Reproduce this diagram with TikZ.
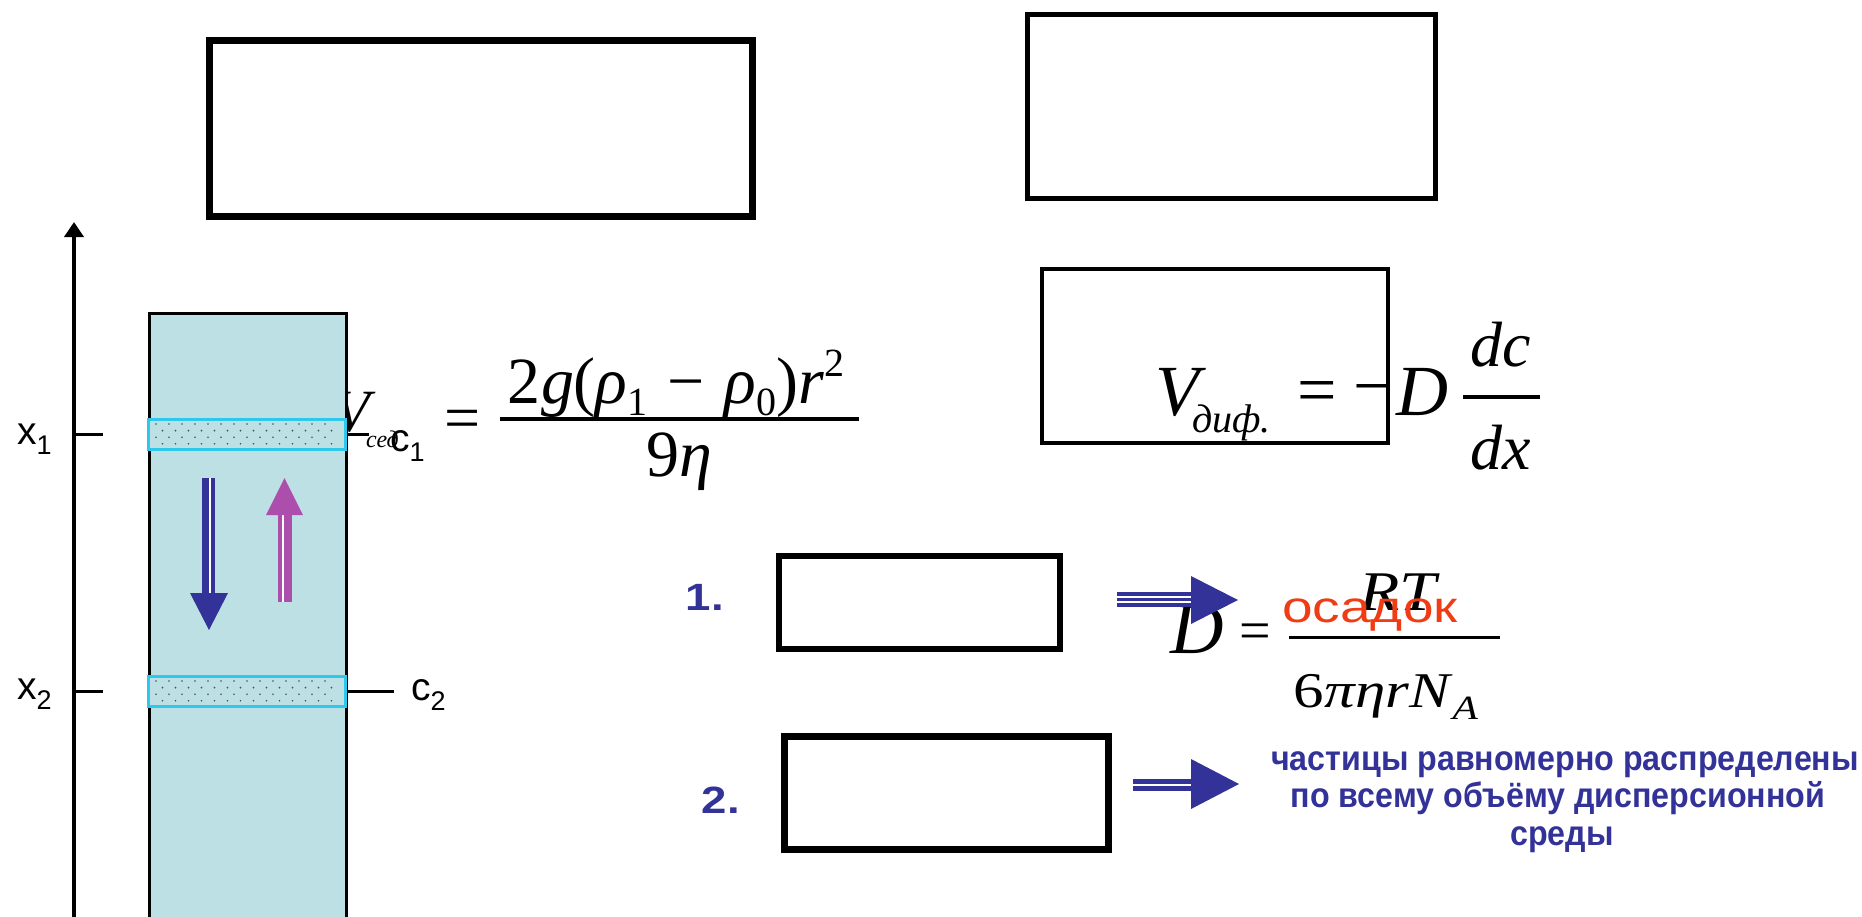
\documentclass[tikz,border=0pt]{standalone}
\usepackage{fontspec}
\usepackage{graphicx}
\setmainfont{Liberation Serif}
\newfontfamily\tms{Liberation Serif}
\newfontfamily\arl{Liberation Sans}
\newfontfamily\arlc[FakeStretch=0.92]{Liberation Sans}
\usetikzlibrary{arrows.meta}
\definecolor{colfill}{RGB}{188,224,227}
\definecolor{bandc}{RGB}{45,200,235}
\definecolor{ablue}{RGB}{50,50,152}
\definecolor{apink}{RGB}{172,78,172}
\definecolor{ored}{RGB}{240,60,20}
\definecolor{dotc}{RGB}{70,80,85}
\newcommand\fs[1]{\fontsize{#1}{#1}\selectfont}
\newcommand\dn[3]{\raisebox{-#1pt}{\fs{#2}#3}}
\newcommand\up[3]{\raisebox{#1pt}{\fs{#2}#3}}
\tikzset{
  frame/.style={draw=black, fill=none, inner sep=0pt},
  lbl/.style={font=\arl\fs{39}, inner sep=0pt, anchor=base west},
  num/.style={font=\arl\bfseries\fs{38}, text=ablue, inner sep=0pt},
  blue txt/.style={font=\arlc\bfseries\fs{35}, text=ablue, inner sep=0pt, anchor=base},
  mth/.style={font=\tms, inner sep=0pt},
  tick/.style={line width=3pt},
  bar/.style={line width=3.5pt},
}
\begin{document}
\begin{tikzpicture}[x=1pt,y=-1pt]
\useasboundingbox (0,0) rectangle (1862,916);
\clip (0,0) rectangle (1862,916);
% V_sed (partly hidden behind the column)
\node[mth, anchor=base west] (vsed) at (333,431) {\fs{60}\itshape V};
% column
\node[frame, line width=3pt, fill=colfill, minimum width=197, minimum height=640, anchor=north west] (col) at (148,312) {};
% bands
\node[frame, draw=bandc, line width=3pt, fill=colfill, minimum width=197, minimum height=30] (band1) at (246.5,434) {};
\node[frame, draw=bandc, line width=3pt, fill=colfill, minimum width=197, minimum height=30] (band2) at (246.5,691) {};
\foreach \yy in {424,681} {
  \foreach \r in {0,1,2,3} {
    \foreach \c in {0,...,13} {
      \fill[dotc] ({156+13*\c+6.5*mod(\r,2)}, {\yy+6.6*\r}) circle (0.9);
    }
  }
}
\node[mth, anchor=base west] (vsedsub) at (366,447) {\fs{24}\itshape сед};
% axis
\coordinate (axb) at (74,930);
\coordinate (axt) at (74,222);
\draw[line width=4pt, -{Triangle[width=19pt,length=15pt]}] (axb) -- (axt);
% ticks
\draw[tick] (74,434) -- (103,434);
\draw[tick] (74,691) -- (103,691);
\draw[tick] (band1.east) -- ++(22,0) coordinate (c1t);
\draw[tick] (band2.east) -- ++(47,0) coordinate (c2t);
% labels
\node[lbl] (x1) at (17,444) {x\dn{10}{27}{1}};
\node[lbl] (x2) at (17,699) {x\dn{10}{27}{2}};
\node[lbl] (c1) at (390,451) {c\dn{10}{27}{1}};
\node[lbl] (c2) at (411,700) {c\dn{10}{27}{2}};
% vertical block arrows
\fill[ablue] (202,478) rectangle (215,594);
\draw[white, line width=1.2pt] (210,478) -- (210,594);
\fill[ablue] (190,593) -- (228,593) -- (209,630) -- cycle;
\fill[apink] (278,514) rectangle (292,602);
\draw[white, line width=1.2pt] (283,514) -- (283,602);
\fill[apink] (266,515) -- (303,515) -- (284.5,478) -- cycle;
% V_sed formula
\node[mth, anchor=center] (eq1) at (463,425) {\fs{64}=};
\draw[bar] (500,419) -- (859,419);
\node[mth, anchor=base] (num1) at (676,403) {\fs{66}2\textit{g}(\textit{ρ}\dn{12}{40}{1}\hspace{0.3em}−\hspace{0.3em}\textit{ρ}\dn{12}{40}{0})\textit{r}\up{27}{40}{2}};
\node[mth, anchor=base] (den1) at (679,476) {\fs{66}9\textit{η}};
% top boxes
\node[frame, line width=7pt, minimum width=543, minimum height=176] (boxA) at (481,128.5) {};
\node[frame, line width=5pt, minimum width=408, minimum height=184] (boxB) at (1231.5,106.5) {};
\node[frame, line width=4.5pt, minimum width=346, minimum height=174] (boxC) at (1215,356) {};
% V_dif formula
\node[mth, anchor=base west] (vdif) at (1155,415) {\fs{72}\itshape V};
\node[mth, anchor=base west] (vdifsub) at (1192,432) {\fs{40}\itshape диф.};
\node[mth, anchor=center] (eq2) at (1317,397) {\fs{70}=};
\node[mth, anchor=center] (minus2) at (1373,397) {\fs{70}−};
\node[mth, anchor=base west] (d2) at (1396,415) {\fs{72}\itshape D};
\draw[bar] (1463,397) -- (1540,397);
\node[mth, anchor=base] (dc) at (1501,366) {\fs{64}\itshape dc};
\node[mth, anchor=base] (dx) at (1501,469) {\fs{64}\itshape dx};
% box 1 and 2
\node[frame, line width=6pt, minimum width=281, minimum height=93] (box1) at (919.5,602.5) {};
\node[frame, line width=7pt, minimum width=324, minimum height=113] (box2) at (946.5,793) {};
\node[num] (n1) at (705,597) {\scalebox{1.2}[1]{1.}};
\node[num] (n2) at (721,800) {\scalebox{1.2}[1]{2.}};
% D formula
\node[mth, anchor=base west] (dD) at (1170,653) {\fs{74}\itshape D};
\node[mth, anchor=center] (eq3) at (1255,637) {\fs{56}=};
\draw[line width=3pt] (1289,637) -- (1500,637);
\node[mth, anchor=base] (rt) at (1398,610) {\scalebox{1.18}[1]{\fs{56}\itshape RT}};
\node[mth, anchor=base] (den3) at (1386,707) {\scalebox{1.22}[1]{\fs{50}6\textit{πηrN}\dn{12}{34}{\textit{A}}}};
\node[font=\arl\fs{44}, text=ored, inner sep=0pt, anchor=base] (osadok) at (1370,622) {\scalebox{1.25}[1]{осадок}};
% horizontal block arrows
\fill[ablue] (1117,592) rectangle (1193,607);
\draw[white, line width=1.2pt] (1117,597) -- (1193,597);
\draw[white, line width=1.2pt] (1117,602) -- (1193,602);
\fill[ablue] (1191,576) -- (1191,624) -- (1238,600) -- cycle;
\fill[ablue] (1133,779) rectangle (1193,791);
\draw[white, line width=1.2pt] (1133,785) -- (1193,785);
\fill[ablue] (1191,759) -- (1191,809) -- (1239,784) -- cycle;
% blue text
\node[blue txt] (t1) at (1565,770) {частицы равномерно распределены};
\node[blue txt] (t2) at (1558,807) {по всему объёму дисперсионной};
\node[blue txt] (t3) at (1562,845) {среды};
\end{tikzpicture}
\end{document}
